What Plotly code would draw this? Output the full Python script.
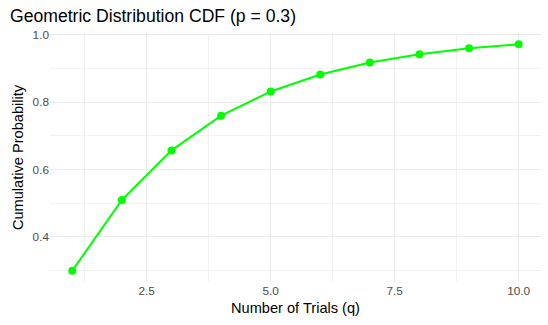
import plotly.graph_objects as go

trials = [1, 2, 3, 4, 5, 6, 7, 8, 9, 10]
cdf = [0.300, 0.510, 0.657, 0.760, 0.832, 0.882, 0.918, 0.942, 0.960, 0.972]
x_ticks = [2.5, 5.0, 7.5, 10.0]
x_tick_labels = ["2.5", "5.0", "7.5", "10.0"]
y_ticks = [0.4, 0.6, 0.8, 1.0]
y_tick_labels = ["0.4", "0.6", "0.8", "1.0"]

fig = go.Figure()
fig.add_trace(go.Scatter(
    x=trials, y=cdf, mode="lines+markers",
    line=dict(color="#00FF00", width=2),
    marker=dict(color="#00FF00", size=8),
    showlegend=False,
))

font = "Liberation Sans, Arial, sans-serif"
fig.update_layout(
    width=548, height=325,
    margin=dict(l=50, r=7, t=33, b=43),
    paper_bgcolor="white", plot_bgcolor="white",
    font=dict(family=font, color="black"),
    title=dict(text="Geometric Distribution CDF (p = 0.3)", x=0, xref="paper",
               xanchor="left", y=0.97, yref="container", yanchor="top",
               font=dict(size=17.6, color="black", family=font),
               pad=dict(l=-40)),
    xaxis=dict(range=[0.55, 10.45], tickvals=x_ticks, ticktext=x_tick_labels,
               showgrid=True, gridcolor="#EBEBEB", gridwidth=1, zeroline=False,
               showline=False, ticks="", tickfont=dict(size=11.8, color="#4D4D4D"),
               minor=dict(tickvals=[1.25, 3.75, 6.25, 8.75], showgrid=True,
                          gridcolor="#F2F2F2", gridwidth=1),
               title=dict(text="Number of Trials (q)", font=dict(size=14.6, color="black"),
                          standoff=5)),
    yaxis=dict(range=[0.2664, 1.0054], tickvals=y_ticks, ticktext=y_tick_labels,
               showgrid=True, gridcolor="#EBEBEB", gridwidth=1, zeroline=False,
               showline=False, ticks="", tickfont=dict(size=11.8, color="#4D4D4D"),
               minor=dict(tickvals=[0.3, 0.5, 0.7, 0.9], showgrid=True,
                          gridcolor="#F2F2F2", gridwidth=1),
               title=dict(text="Cumulative Probability", font=dict(size=14.6, color="black"),
                          standoff=5)),
)

fig.write_html("out.html")
